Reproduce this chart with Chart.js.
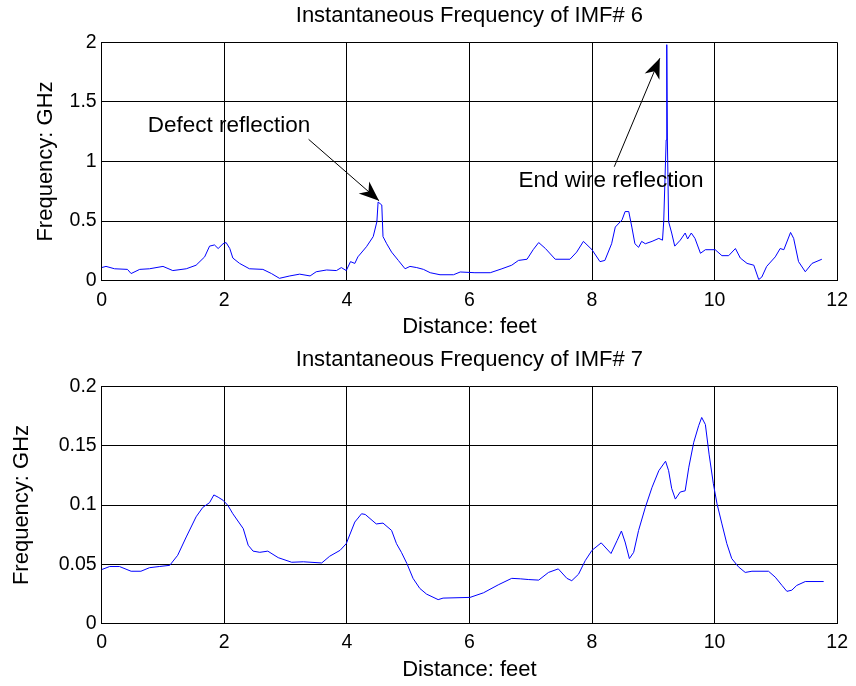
<!DOCTYPE html>
<html>
<head>
<meta charset="utf-8">
<script src="https://cdn.jsdelivr.net/npm/chart.js@4.4.1/dist/chart.umd.min.js"></script>
<style>
  body { margin: 0; background: #fff; }
  .panel { position: absolute; left: 0; width: 856px; height: 343px; }
</style>
</head>
<body>
<div class="panel" style="top:0"><canvas id="imf6" width="856" height="343"></canvas></div>
<div class="panel" style="top:343px"><canvas id="imf7" width="856" height="343"></canvas></div>
<script>
// distance (feet) and instantaneous frequency (GHz)
const imf6Dist = [0, 0.07, 0.21, 0.42, 0.48, 0.62, 0.78, 1.0, 1.16, 1.38, 1.54, 1.68, 1.76, 1.84, 1.9, 1.98, 2.03, 2.09, 2.14, 2.25,
  2.41, 2.63, 2.77, 2.9, 3.07, 3.23, 3.4, 3.5, 3.67, 3.83, 3.91, 3.99, 4.06, 4.13, 4.18, 4.32, 4.43, 4.49, 4.51, 4.57,
  4.59, 4.65, 4.73, 4.84, 4.95, 5.03, 5.14, 5.25, 5.36, 5.52, 5.74, 5.85, 6.09, 6.34, 6.53, 6.69, 6.8, 6.94, 7.04, 7.13,
  7.24, 7.4, 7.64, 7.75, 7.86, 8.0, 8.13, 8.21, 8.32, 8.38, 8.49, 8.54, 8.6, 8.65, 8.7, 8.76, 8.81, 8.87, 8.98, 9.09,
  9.15, 9.17, 9.21, 9.22, 9.23, 9.25, 9.3, 9.35, 9.44, 9.52, 9.56, 9.62, 9.68, 9.77, 9.85, 10.01, 10.12, 10.23, 10.34, 10.42,
  10.53, 10.64, 10.72, 10.77, 10.85, 10.99, 11.07, 11.13, 11.24, 11.29, 11.37, 11.48, 11.59, 11.75];
const imf6Freq = [0.11, 0.12, 0.10, 0.095, 0.06, 0.095, 0.10, 0.12, 0.085, 0.10, 0.13, 0.20, 0.29, 0.30, 0.27, 0.31, 0.32, 0.27, 0.19, 0.145,
  0.10, 0.095, 0.06, 0.02, 0.04, 0.055, 0.04, 0.075, 0.09, 0.085, 0.11, 0.085, 0.16, 0.145, 0.20, 0.285, 0.37, 0.495, 0.66, 0.635,
  0.37, 0.31, 0.24, 0.17, 0.10, 0.12, 0.11, 0.095, 0.067, 0.05, 0.05, 0.073, 0.067, 0.067, 0.10, 0.13, 0.17, 0.18, 0.26, 0.32,
  0.27, 0.18, 0.18, 0.24, 0.33, 0.26, 0.16, 0.17, 0.31, 0.45, 0.51, 0.58, 0.58, 0.45, 0.31, 0.28, 0.33, 0.31, 0.33, 0.355,
  0.34, 0.495, 1.18, 1.98, 1.18, 0.495, 0.40, 0.29, 0.34, 0.40, 0.35, 0.40, 0.355, 0.23, 0.26, 0.26, 0.21, 0.21, 0.27, 0.19,
  0.145, 0.13, 0.01, 0.03, 0.12, 0.20, 0.27, 0.26, 0.405, 0.355, 0.16, 0.075, 0.145, 0.18];

const imf7Dist = [0, 0.13, 0.29, 0.48, 0.64, 0.78, 0.94, 1.11, 1.24, 1.38, 1.54, 1.65, 1.76, 1.83, 1.9, 1.98, 2.06, 2.14, 2.31, 2.39,
  2.47, 2.58, 2.71, 2.88, 3.1, 3.29, 3.59, 3.72, 3.89, 3.99, 4.13, 4.24, 4.3, 4.48, 4.59, 4.73, 4.81, 4.89, 4.98, 5.08,
  5.19, 5.3, 5.49, 5.57, 6.01, 6.23, 6.47, 6.69, 6.83, 6.96, 7.13, 7.29, 7.45, 7.59, 7.67, 7.78, 7.89, 8.0, 8.15, 8.31,
  8.41, 8.48, 8.54, 8.61, 8.68, 8.76, 8.87, 8.98, 9.09, 9.2, 9.25, 9.3, 9.36, 9.44, 9.52, 9.58, 9.66, 9.74, 9.79, 9.85,
  9.91, 9.98, 10.04, 10.12, 10.2, 10.28, 10.39, 10.5, 10.61, 10.88, 10.99, 11.1, 11.18, 11.26, 11.34, 11.48, 11.78];
const imf7Freq = [0.0454, 0.048, 0.048, 0.044, 0.044, 0.047, 0.048, 0.049, 0.0575, 0.073, 0.090, 0.098, 0.102, 0.1085, 0.1066, 0.104, 0.0996, 0.0926, 0.080, 0.066,
  0.061, 0.060, 0.061, 0.0555, 0.0516, 0.052, 0.051, 0.0567, 0.0617, 0.0673, 0.0856, 0.0926, 0.092, 0.084, 0.0847, 0.0785, 0.0673, 0.060, 0.0505, 0.038,
  0.0295, 0.0247, 0.020, 0.0213, 0.0219, 0.0258, 0.0325, 0.038, 0.0376, 0.037, 0.0365, 0.043, 0.046, 0.038, 0.036, 0.0415, 0.053, 0.0617, 0.068, 0.059,
  0.070, 0.078, 0.0687, 0.0547, 0.060, 0.0785, 0.098, 0.115, 0.129, 0.137, 0.129, 0.114, 0.105, 0.111, 0.112, 0.132, 0.153, 0.167, 0.174, 0.168,
  0.143, 0.118, 0.101, 0.084, 0.0673, 0.0547, 0.0477, 0.043, 0.044, 0.044, 0.039, 0.032, 0.027, 0.028, 0.032, 0.0353, 0.0353];

const distTicks = [0, 2, 4, 6, 8, 10, 12];
const imf6Ticks = [0, 0.5, 1, 1.5, 2];
const imf7Ticks = [0, 0.05, 0.1, 0.15, 0.2];

const FONT = 'Liberation Sans, Arial, Helvetica, sans-serif';

// text + arrow annotations, positions in data units
const notesPlugin = {
  id: 'notes',
  afterDatasetsDraw(chart, args, opts) {
    const ctx = chart.ctx;
    const xs = chart.scales.x, ys = chart.scales.y;
    (opts.items || []).forEach(n => {
      ctx.save();
      const x1 = xs.getPixelForValue(n.from[0]), y1 = ys.getPixelForValue(n.from[1]);
      const x2 = xs.getPixelForValue(n.to[0]), y2 = ys.getPixelForValue(n.to[1]);
      ctx.strokeStyle = '#000';
      ctx.fillStyle = '#000';
      ctx.lineWidth = 1;
      ctx.beginPath();
      ctx.moveTo(x1, y1);
      ctx.lineTo(x2, y2);
      ctx.stroke();
      const a = Math.atan2(y2 - y1, x2 - x1);
      const len = 20, half = 8;
      const bx = x2 - len * Math.cos(a), by = y2 - len * Math.sin(a);
      const nx = x2 - len * 0.7 * Math.cos(a), ny = y2 - len * 0.7 * Math.sin(a);
      ctx.beginPath();
      ctx.moveTo(x2, y2);
      ctx.lineTo(bx + half * Math.sin(a), by - half * Math.cos(a));
      ctx.lineTo(nx, ny);
      ctx.lineTo(bx - half * Math.sin(a), by + half * Math.cos(a));
      ctx.closePath();
      ctx.fill();
      ctx.font = '22.5px ' + FONT;
      ctx.textBaseline = 'middle';
      ctx.textAlign = 'left';
      ctx.fillText(n.text, xs.getPixelForValue(n.at[0]), ys.getPixelForValue(n.at[1]));
      ctx.restore();
    });
  }
};

function makeChart(id, title, xs, ys, yTicks, cfg) {
  const pts = xs.map((x, i) => ({ x: x, y: ys[i] }));
  return new Chart(document.getElementById(id), {
    type: 'line',
    data: {
      datasets: [{
        data: pts,
        borderColor: 'rgb(0, 0, 255)',
        borderWidth: 1,
        pointRadius: 0,
        tension: 0,
        fill: false
      }]
    },
    plugins: [notesPlugin],
    options: {
      responsive: false,
      animation: false,
      events: [],
      layout: { padding: { left: 0, right: 16.3, top: 0, bottom: 0 } },
      plugins: {
        legend: { display: false },
        tooltip: { enabled: false },
        title: {
          display: true,
          text: title,
          fullSize: false,
          color: '#000',
          font: { family: FONT, size: 22, weight: 'normal' },
          padding: { top: cfg.titleTop, bottom: cfg.titleBottom }
        },
        notes: { items: cfg.notes }
      },
      scales: {
        x: {
          type: 'linear',
          min: 0,
          max: 12,
          afterBuildTicks: s => { s.ticks = distTicks.map(v => ({ value: v })); },
          afterFit: s => { s.height = cfg.xAxisHeight; },
          grid: { color: '#000', lineWidth: 1, drawTicks: false },
          border: { color: '#000', width: 1 },
          ticks: { color: '#000', font: { family: FONT, size: 19.5 }, padding: 8, maxRotation: 0,
            callback: v => String(+v.toFixed(3)) },
          title: {
            display: true,
            text: 'Distance: feet',
            color: '#000',
            font: { family: FONT, size: 22 },
            padding: { top: 0, bottom: 2.8 }
          }
        },
        y: {
          type: 'linear',
          min: yTicks[0],
          max: yTicks[yTicks.length - 1],
          afterBuildTicks: s => { s.ticks = yTicks.map(v => ({ value: v })); },
          afterFit: s => { s.width = 101.7; },
          grid: { color: '#000', lineWidth: 1, drawTicks: false },
          border: { color: '#000', width: 1 },
          ticks: { color: '#000', font: { family: FONT, size: 19.5 }, padding: 5,
            callback: v => String(+v.toFixed(3)) },
          title: {
            display: true,
            text: 'Frequency: GHz',
            color: '#000',
            font: { family: FONT, size: 22 },
            padding: { top: cfg.yTitlePad, bottom: 0 }
          }
        }
      }
    }
  });
}

makeChart('imf6', 'Instantaneous Frequency of IMF# 6', imf6Dist, imf6Freq, imf6Ticks, {
  titleTop: 2.5, titleBottom: 13.4, xAxisHeight: 62.3, yTitlePad: 32.8,
  notes: [
    { text: 'Defect reflection', at: [0.75, 1.30], from: [3.376, 1.186], to: [4.525, 0.671] },
    { text: 'End wire reflection', at: [6.80, 0.835], from: [8.363, 0.956], to: [9.106, 1.866] }
  ]
});

makeChart('imf7', 'Instantaneous Frequency of IMF# 7', imf7Dist, imf7Freq, imf7Ticks, {
  titleTop: 3.5, titleBottom: 13.8, xAxisHeight: 62.7, yTitlePad: 8.8,
  notes: []
});
</script>
</body>
</html>
